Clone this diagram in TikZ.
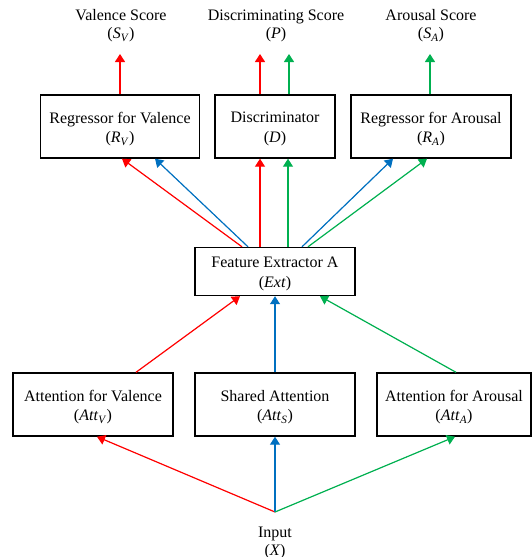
\documentclass[tikz,border=0pt]{standalone}
\usepackage{fontspec}
\setmainfont{Liberation Serif}
\usetikzlibrary{arrows.meta,calc}
\definecolor{cred}{RGB}{255,0,0}
\definecolor{cblue}{RGB}{0,112,192}
\definecolor{cgreen}{RGB}{0,176,80}
\begin{document}
\begin{tikzpicture}[x=1pt,y=-1pt,
  box/.style={draw=black,line width=1.4pt,minimum height=63pt,inner sep=0pt},
  boxtext/.style={align=center,inner sep=0pt,yshift=-2.5pt,font=\fontsize{16}{19.5}\selectfont},
  lbl/.style={align=center,inner sep=0pt,font=\fontsize{16}{18}\selectfont},
  arr/.style={line width=1.2pt,-{Triangle[length=8pt,width=10pt]}},
  r/.style={arr,draw=cred,fill=cred},
  b/.style={arr,draw=cblue,fill=cblue},
  g/.style={arr,draw=cgreen,fill=cgreen}]
\useasboundingbox (0,0) rectangle (532,557);
% top row
\node[box,minimum width=159pt,label={[boxtext]center:Regressor for Valence\\(\textit{R}\textsubscript{\textit{V}})}] (rv) at (120,126.5) {};
\node[box,minimum width=120pt,label={[boxtext]center:Discriminator\\(\textit{D})}] (d) at (275,126.5) {};
\node[box,minimum width=160pt,label={[boxtext]center:Regressor for Arousal\\(\textit{R}\textsubscript{\textit{A}})}] (ra) at (431,126.5) {};
% outputs
\node[lbl] (sv) at (121,26) {Valence Score\\(\textit{S}\textsubscript{\textit{V}})};
\node[lbl] (p) at (276,26) {Discriminating Score\\(\textit{P})};
\node[lbl] (sa) at (431,26) {Arousal Score\\(\textit{S}\textsubscript{\textit{A}})};
\coordinate (svt) at (120,54);
\coordinate (prt) at (260,54);
\coordinate (pgt) at (289,54);
\coordinate (sat) at (430,54);
% feature extractor
\node[box,minimum width=160pt,minimum height=48pt,label={[boxtext]center:Feature Extractor A\\(\textit{Ext})}] (fe) at (275,271.5) {};
% attention row
\node[box,minimum width=160pt,label={[boxtext]center:Attention for Valence\\(\textit{Att}\textsubscript{\textit{V}})}] (av) at (93,404.5) {};
\node[box,minimum width=160pt,label={[boxtext]center:Shared Attention\\(\textit{Att}\textsubscript{\textit{S}})}] (as) at (275,404.5) {};
\node[box,minimum width=154pt,label={[boxtext]center:Attention for Arousal\\(\textit{Att}\textsubscript{\textit{A}})}] (aa) at (454,404.5) {};
% input
\node[lbl] (x) at (275,543) {Input\\(\textit{X})};
\coordinate (xp) at (275,512);
% outputs arrows
\draw[r] (rv.north -| svt) -- (svt);
\draw[r] (d.north -| prt) -- (prt);
\draw[g] (d.north -| pgt) -- (pgt);
\draw[g] (ra.north -| sat) -- (sat);
% FE to top
\draw[r] ([xshift=-33pt]fe.north) -- ([xshift=2pt]rv.south);
\draw[b] ([xshift=-27pt]fe.north) -- ([xshift=35pt]rv.south);
\draw[r] ([xshift=-15pt]fe.north) -- ([xshift=-15pt]d.south);
\draw[g] ([xshift=13pt]fe.north) -- ([xshift=13pt]d.south);
\draw[b] ([xshift=27pt]fe.north) -- ([xshift=-38pt]ra.south);
\draw[g] ([xshift=33pt]fe.north) -- ([xshift=-4pt]ra.south);
% attention to FE
\draw[r] ([xshift=43pt]av.north) -- ([xshift=-35pt]fe.south);
\draw[b] (as.north) -- (fe.south);
\draw[g] ([xshift=2pt]aa.north) -- ([xshift=45pt]fe.south);
% input to attention
\draw[r] (xp) -- ([xshift=4pt]av.south);
\draw[b] (xp) -- (as.south);
\draw[g] (xp) -- ([xshift=1pt]aa.south);
\end{tikzpicture}
\end{document}
